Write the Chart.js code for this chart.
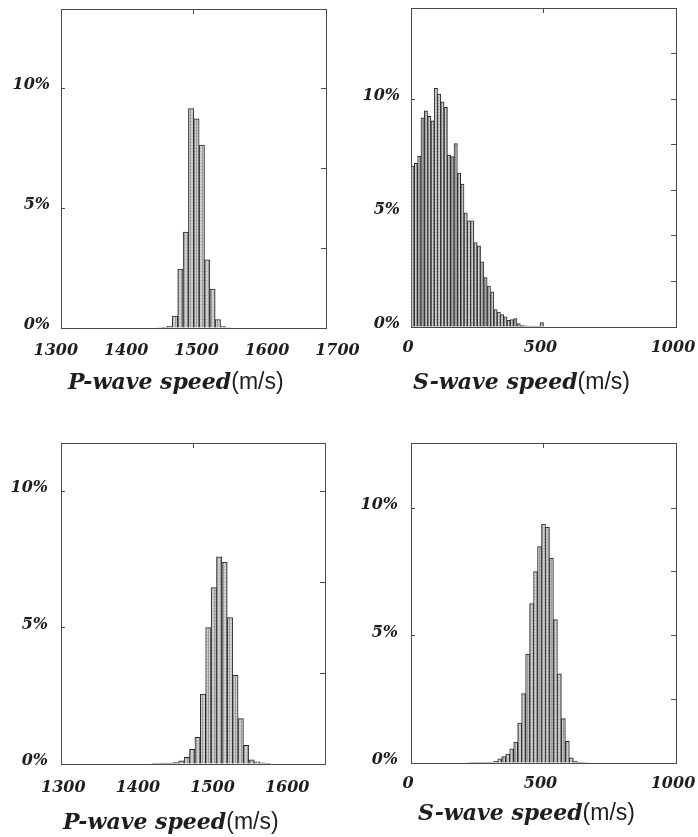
<!DOCTYPE html>
<html>
<head>
<meta charset="utf-8">
<script src="https://cdn.jsdelivr.net/npm/chart.js@4/dist/chart.umd.min.js"></script>
<style>
  html, body { margin: 0; padding: 0; background: #fff; }
  #page { position: relative; width: 698px; height: 837px; overflow: hidden; }
  canvas { position: absolute; }
  .title {
    position: absolute; white-space: nowrap; color: #1e1e1e;
    font: italic bold 22px 'DejaVu Serif', serif; line-height: 21px; z-index: 2;
  }
  .title span { font: normal 23px 'Liberation Sans', Arial, sans-serif; line-height: 21px; }
</style>
</head>
<body>
<div id="page">
  <canvas id="pTop" width="371" height="375" style="left:0px;top:0px"></canvas>
  <canvas id="sTop" width="343" height="375" style="left:355px;top:0px"></canvas>
  <canvas id="pBottom" width="371" height="437" style="left:0px;top:400px"></canvas>
  <canvas id="sBottom" width="343" height="437" style="left:355px;top:400px"></canvas>
  <div class="title" style="left:68px;top:371px">P-wave speed<span>(m/s)</span></div>
  <div class="title" style="left:413px;top:371px">S-wave speed<span>(m/s)</span></div>
  <div class="title" style="left:63px;top:811px">P-wave speed<span>(m/s)</span></div>
  <div class="title" style="left:418px;top:802px">S-wave speed<span>(m/s)</span></div>
</div>
<script>
// ---- histogram data: bin centre speed (m/s) and share of samples (%) ----
const pTopSpeed = [1446.6, 1454.2, 1461.8, 1469.4, 1477.0, 1484.6, 1492.2, 1499.8,
                   1507.4, 1515.0, 1522.6, 1530.2, 1537.8, 1545.4];
const pTopPct   = [0.02, 0.04, 0.07, 0.50, 2.46, 4.00, 9.15, 8.72,
                   7.63, 2.84, 1.62, 0.35, 0.06, 0.02];

const sTopSpeed = [6.25, 18.75, 31.25, 43.75, 56.25, 68.75, 81.25, 93.75, 106.25, 118.75,
                   131.25, 143.75, 156.25, 168.75, 181.25, 193.75, 206.25, 218.75, 231.25, 243.75,
                   256.25, 268.75, 281.25, 293.75, 306.25, 318.75, 331.25, 343.75, 356.25, 368.75,
                   381.25, 393.75, 406.25, 418.75, 431.25, 443.75, 456.25, 468.75, 481.25, 493.75];
const sTopPct   = [7.06, 7.18, 7.50, 9.18, 9.49, 9.25, 9.05, 10.47, 10.22, 9.88,
                   9.64, 7.54, 7.48, 8.05, 6.76, 6.27, 5.01, 4.66, 4.66, 3.71,
                   3.56, 2.86, 2.17, 1.80, 1.54, 0.76, 0.66, 0.55, 0.45, 0.29,
                   0.33, 0.37, 0.15, 0.06, 0.05, 0.04, 0.04, 0.03, 0.03, 0.19];

const pBottomSpeed = [1422.1, 1429.4, 1436.6, 1443.8, 1451.0, 1458.3, 1465.5, 1472.7, 1480.0, 1487.2,
                      1494.4, 1501.7, 1508.9, 1516.1, 1523.3, 1530.6, 1537.8, 1545.0, 1552.3, 1559.5,
                      1566.7, 1574.0];
const pBottomPct   = [0.02, 0.03, 0.03, 0.03, 0.05, 0.12, 0.24, 0.54, 0.98, 2.56,
                      5.00, 6.46, 7.59, 7.40, 5.36, 3.25, 1.66, 0.68, 0.15, 0.08,
                      0.04, 0.02];

const sBottomSpeed = [215, 230, 245, 260, 275, 290, 305, 320, 335, 350, 365, 380, 395, 410, 425, 440,
                      455, 470, 485, 500, 515, 530, 545, 560, 575, 590, 605, 620, 635, 650, 665];
const sBottomPct   = [0.02, 0.03, 0.03, 0.03, 0.03, 0.03, 0.04, 0.07, 0.16, 0.25, 0.35, 0.56, 0.82, 1.57, 2.72, 4.27,
                      6.25, 7.51, 8.49, 9.37, 9.24, 8.04, 5.62, 3.50, 1.74, 0.85, 0.20, 0.08, 0.03, 0.03, 0.02];

// ---- axis tick labels ----
const pTopTicks = [1300, 1400, 1500, 1600, 1700];
const pBottomTicks = [1300, 1400, 1500, 1600];
const sTicks = [0, 500, 1000];
const pctTicks = [0, 5, 10];

// ---- drawing ----
const FRAME = '#4a4a4a';
const INK = '#1e1e1e';
const tickFont = { family: "'DejaVu Serif', serif", style: 'italic', weight: 'bold', size: 16 };

function hatchPattern() {
  const tile = document.createElement('canvas');
  tile.width = 3; tile.height = 3;
  const t = tile.getContext('2d');
  t.fillStyle = '#d2d2d2'; t.fillRect(0, 0, 3, 3);
  t.fillStyle = '#bdbdbd'; t.fillRect(0, 1, 3, 1);
  t.fillStyle = '#9e9e9e'; t.fillRect(1, 0, 1, 3);
  return t.createPattern(tile, 'repeat');
}

function sizeAxis(prop, size) {
  return (s) => {
    s[prop] = size;
    s.paddingLeft = 0; s.paddingRight = 0; s.paddingTop = 0; s.paddingBottom = 0;
  };
}

function histogram(id, speeds, pct, cfg) {
  const el = document.getElementById(id);
  const W = el.width, H = el.height;
  const f = cfg.frame; // chart area inside this canvas: left, top, right, bottom
  return new Chart(el, {
    type: 'bar',
    data: {
      datasets: [{
        data: speeds.map((v, i) => ({ x: v, y: pct[i] })),
        backgroundColor: hatchPattern(),
        borderColor: '#2a2a2a',
        borderWidth: 1,
        barPercentage: 1,
        categoryPercentage: 1
      }]
    },
    options: {
      responsive: false,
      animation: false,
      events: [],
      layout: { padding: 0 },
      plugins: { legend: { display: false }, tooltip: { enabled: false } },
      scales: {
        x: {
          type: 'linear', position: 'bottom', min: cfg.xMin, max: cfg.xMax, offset: false,
          afterBuildTicks: (s) => { s.ticks = cfg.xTicks.map(v => ({ value: v })); },
          afterFit: sizeAxis('height', H - f.bottom),
          grid: { display: false, offset: false },
          border: { display: true, color: FRAME, width: 1 },
          ticks: {
            autoSkip: false, maxRotation: 0, padding: cfg.xPad, labelOffset: cfg.xShift || 0,
            font: tickFont, color: INK, callback: (v) => String(v)
          }
        },
        x2: {
          type: 'linear', position: 'top', min: 0, max: 2, offset: false,
          afterBuildTicks: (s) => { s.ticks = [{ value: 1 }]; },
          afterFit: sizeAxis('height', f.top),
          grid: { drawOnChartArea: false, drawTicks: true, tickLength: -5, color: FRAME, offset: false },
          border: { display: true, color: FRAME, width: 1 },
          ticks: { display: false }
        },
        y: {
          type: 'linear', position: 'left', min: 0, max: cfg.yMax,
          afterBuildTicks: (s) => { s.ticks = pctTicks.map(v => ({ value: v })); },
          afterFit: sizeAxis('width', f.left),
          grid: { drawOnChartArea: false, drawTicks: true, tickLength: -4, color: FRAME },
          border: { display: true, color: FRAME, width: 1 },
          ticks: { padding: cfg.yPad, labelOffset: -3, font: tickFont, color: INK, callback: (v) => v + '%' }
        },
        y2: {
          type: 'linear', position: 'right', min: 0, max: cfg.yMax,
          afterBuildTicks: (s) => { s.ticks = cfg.rightTicks.map(v => ({ value: v })); },
          afterFit: sizeAxis('width', W - f.right),
          grid: { drawOnChartArea: false, drawTicks: true, tickLength: -5, color: FRAME },
          border: { display: true, color: FRAME, width: 1 },
          ticks: { display: false }
        }
      }
    }
  });
}

histogram('pTop', pTopSpeed, pTopPct, {
  frame: { left: 61, top: 9, right: 326, bottom: 328 },
  xMin: 1307.4, xMax: 1683.8, xTicks: pTopTicks, xPad: 5,
  yMax: 13.3, yPad: 15, rightTicks: [10 / 3, 20 / 3, 10]
});

histogram('sTop', sTopSpeed, sTopPct, {
  frame: { left: 56, top: 8, right: 321, bottom: 327 },
  xMin: 0, xMax: 1000, xTicks: sTicks, xPad: 3, xShift: -3,
  yMax: 14.0, yPad: 15, rightTicks: [2, 4, 6, 8, 10, 12]
});

histogram('pBottom', pBottomSpeed, pBottomPct, {
  frame: { left: 61, top: 43, right: 325, bottom: 364 },
  xMin: 1296.9, xMax: 1650.7, xTicks: pBottomTicks, xPad: 6,
  yMax: 11.76, yPad: 17, rightTicks: [10 / 3, 20 / 3, 10]
});

histogram('sBottom', sBottomSpeed, sBottomPct, {
  frame: { left: 56, top: 43, right: 321, bottom: 363 },
  xMin: 0, xMax: 1000, xTicks: sTicks, xPad: 3, xShift: -3,
  yMax: 12.55, yPad: 17, rightTicks: [2.5, 5, 7.5, 10]
});
</script>
</body>
</html>
